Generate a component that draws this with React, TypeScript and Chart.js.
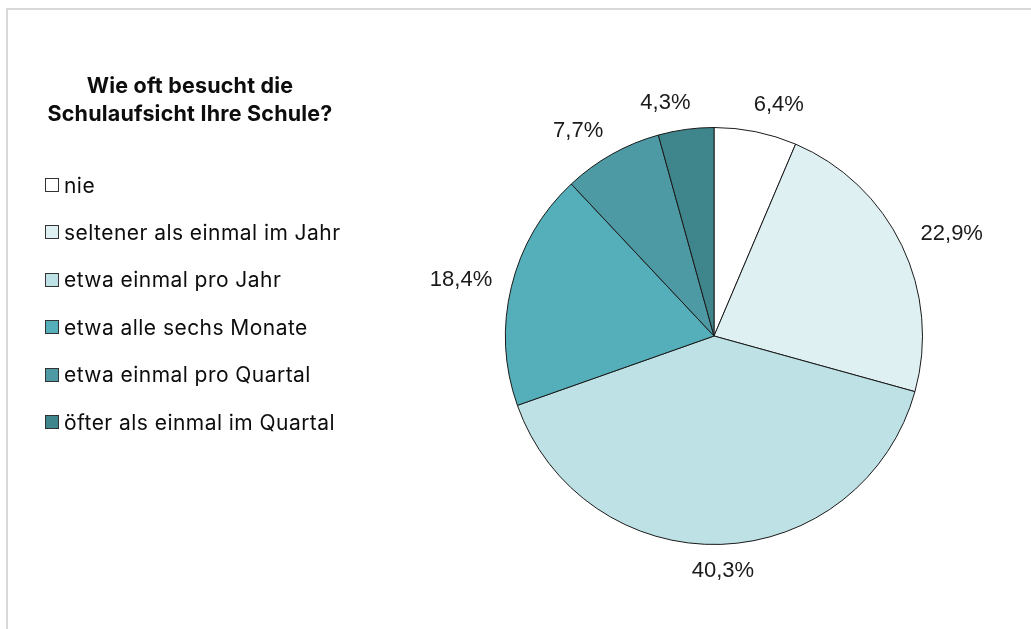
import React, { useEffect, useRef } from "react";
import { Chart, registerables } from "chart.js";

Chart.register(...registerables);

const titleLines = ["Wie oft besucht die", "Schulaufsicht Ihre Schule?"];
const categories = [
  "nie",
  "seltener als einmal im Jahr",
  "etwa einmal pro Jahr",
  "etwa alle sechs Monate",
  "etwa einmal pro Quartal",
  "öfter als einmal im Quartal",
];
const values = [6.4, 22.9, 40.3, 18.4, 7.7, 4.3];
const colors = ["#FFFFFF", "#DFF0F3", "#BDE1E5", "#55AFBA", "#4D9AA5", "#3E868B"];

const FONT = "Inter, 'Open Sans', sans-serif";
const LABEL_FONT = "'Liberation Sans', Arial, sans-serif";

const labelPlugin = {
  id: "outsideLabels",
  afterDatasetsDraw(chart: any) {
    const { ctx } = chart;
    const meta = chart.getDatasetMeta(0);
    ctx.save();
    ctx.font = `22px ${LABEL_FONT}`;
    ctx.fillStyle = "#1a1a1a";
    ctx.textAlign = "center";
    ctx.textBaseline = "middle";
    meta.data.forEach((arc: any, i: number) => {
      const { x, y, startAngle, endAngle, outerRadius } = arc.getProps(
        ["x", "y", "startAngle", "endAngle", "outerRadius"],
        true
      );
      const mid = (startAngle + endAngle) / 2;
      const ux = Math.cos(mid);
      const uy = Math.sin(mid);
      const text = values[i].toFixed(1).replace(".", ",") + "%";
      const w = ctx.measureText(text).width;
      const h = 20;
      const gap = 17;
      let px = x + ux * (outerRadius + gap) + (ux * w) / 2;
      const py = y + uy * (outerRadius + gap) + (uy * h) / 2;
      if (uy < 0) px += Math.sign(ux) * 15 * Math.abs(uy);
      ctx.fillText(text, px, py);
    });
    ctx.restore();
  },
};

export default function App() {
  const canvasRef = useRef<HTMLCanvasElement | null>(null);

  useEffect(() => {
    if (!canvasRef.current) return;
    const chart = new Chart(canvasRef.current, {
      type: "pie",
      data: {
        labels: categories,
        datasets: [
          {
            data: values,
            backgroundColor: colors,
            borderColor: "#1a1a1a",
            borderWidth: 1,
          },
        ],
      },
      options: {
        animation: false,
        responsive: false,
        maintainAspectRatio: false,
        layout: { padding: { top: 127, bottom: 84, left: 505, right: 108 } },
        plugins: {
          legend: { display: false },
          tooltip: { enabled: false },
        },
      },
      plugins: [labelPlugin],
    });
    return () => chart.destroy();
  }, []);

  return (
    <div style={{ position: "absolute", left: 0, top: 0, width: 1031, height: 629, background: "#fff", overflow: "hidden" }}>
      <div
        style={{
          position: "absolute",
          left: 6,
          top: 8,
          width: 1100,
          height: 700,
          borderTop: "2px solid #d9d9d9",
          borderLeft: "2px solid #d9d9d9",
        }}
      />
      <canvas ref={canvasRef} width={1031} height={629} style={{ position: "absolute", left: 0, top: 0 }} />
      <div
        style={{
          position: "absolute",
          left: 0,
          top: 71,
          width: 380,
          textAlign: "center",
          fontFamily: FONT,
          fontWeight: 700,
          fontSize: 21.5,
          letterSpacing: 0.2,
          lineHeight: "28px",
          color: "#0d0d0d",
        }}
      >
        {titleLines.map((t) => (
          <div key={t}>{t}</div>
        ))}
      </div>
      {categories.map((c, i) => (
        <div
          key={c}
          style={{
            position: "absolute",
            left: 45,
            top: 171 + i * 47.4,
            height: 28,
            display: "flex",
            alignItems: "center",
            fontFamily: FONT,
            fontSize: 21,
            letterSpacing: 0.45,
            color: "#0d0d0d",
            whiteSpace: "nowrap",
          }}
        >
          <span
            style={{
              display: "inline-block",
              width: 12,
              height: 12,
              background: colors[i],
              border: "1px solid #333",
              marginRight: 5,
            }}
          />
          {c}
        </div>
      ))}
    </div>
  );
}
